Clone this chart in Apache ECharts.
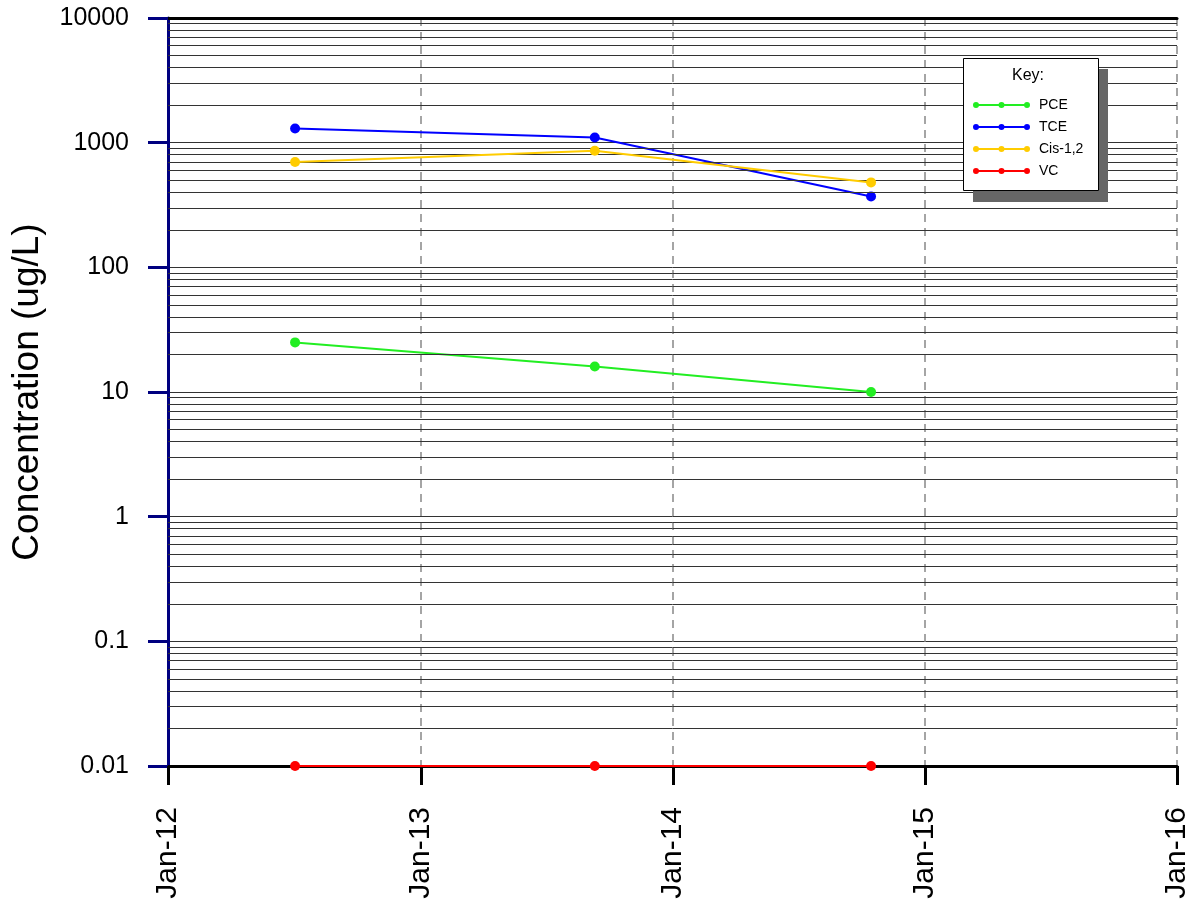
<!DOCTYPE html>
<html>
<head>
<meta charset="utf-8">
<script src="https://cdn.jsdelivr.net/npm/echarts@6/dist/echarts.min.js"></script>
<style>
  html, body { margin: 0; padding: 0; background: #fff; }
  #chart { width: 1193px; height: 905px; }
</style>
</head>
<body>
<div id="chart"></div>
<script>
// sample dates and concentrations (ug/L)
const sampleDates = ['2012-07-03', '2013-09-10', '2014-10-15'];
const pceValues = [25, 16, 10];
const tceValues = [1300, 1100, 370];
const cisValues = [700, 860, 480];
const vcValues = [0.01, 0.01, 0.01];

const seriesNames = ['PCE', 'TCE', 'Cis-1,2', 'VC'];
const seriesColors = ['#22ee22', '#0000ff', '#ffcc00', '#ff0000'];

const xMin = '2012-01-01';
const xMax = '2016-01-01';
const monthNames = ['Jan', 'Feb', 'Mar', 'Apr', 'May', 'Jun', 'Jul', 'Aug', 'Sep', 'Oct', 'Nov', 'Dec'];

// minor log grid lines (2..9 of every decade)
const minorLines = [];
[0.01, 0.1, 1, 10, 100, 1000].forEach((d) => {
  for (let k = 2; k <= 9; k++) minorLines.push({ yAxis: +(d * k).toPrecision(3) });
});

const toPairs = (vals) => sampleDates.map((d, i) => [d, vals[i]]);

// legend icon: line with three dots
const keyIcon = 'path://M3,2 L54,2 L54,4 L3,4 Z M0,3 A3,3 0 1,1 6,3 A3,3 0 1,1 0,3 Z M25.5,3 A3,3 0 1,1 31.5,3 A3,3 0 1,1 25.5,3 Z M51,3 A3,3 0 1,1 57,3 A3,3 0 1,1 51,3 Z';

const chart = echarts.init(document.getElementById('chart'));

const makeSeries = (name, vals, color, z) => ({
  name: name,
  type: 'line',
  data: toPairs(vals),
  symbol: 'circle',
  symbolSize: 10,
  z: z,
  lineStyle: { color: color, width: 2 },
  itemStyle: { color: color },
  emphasis: { disabled: true }
});

let option = {
  animation: false,
  backgroundColor: '#ffffff',
  textStyle: { fontFamily: 'Liberation Sans, Arial, sans-serif' },
  grid: { left: 168, right: 16, top: 18, bottom: 139, containLabel: false },
  graphic: [
    { type: 'rect', left: 973, top: 69, z: 100, shape: { width: 135, height: 133 }, style: { fill: '#666666' } },
    { type: 'rect', left: 963, top: 58, z: 101, shape: { width: 135, height: 132 }, style: { fill: '#ffffff', stroke: '#000', lineWidth: 1 } },
    { type: 'text', left: 1012, top: 68, z: 102, style: { text: 'Key:', fontSize: 16, fill: '#000', fontFamily: 'Liberation Sans, Arial, sans-serif' } }
  ],
  legend: {
    data: seriesNames.map((n, i) => ({
      name: n,
      icon: keyIcon,
      itemStyle: { color: seriesColors[i], borderWidth: 0 },
      lineStyle: { width: 0 }
    })),
    orient: 'vertical',
    left: 968,
    top: 93,
    z: 110,
    itemWidth: 57,
    itemHeight: 6,
    itemGap: 8,
    selectedMode: false,
    textStyle: { fontSize: 14, color: '#000', padding: [0, 0, 0, 4] }
  },
  xAxis: [{
    type: 'time',
    min: xMin,
    max: xMax,
    splitNumber: 4,
    minInterval: 365 * 24 * 3600 * 1000,
    axisLine: { lineStyle: { color: '#000', width: 3 } },
    axisTick: { show: true, length: 19, lineStyle: { color: '#000', width: 3 } },
    splitLine: { show: true, lineStyle: { color: '#888', width: 1.5, type: [8, 6] } },
    axisLabel: {
      rotate: 90,
      margin: 41,
      fontSize: 30,
      color: '#000',
      showMinLabel: true,
      showMaxLabel: true,
      formatter: (value) => {
        const d = new Date(value);
        return monthNames[d.getMonth()] + '-' + String(d.getFullYear()).slice(2);
      }
    }
  }, {
    type: 'time',
    position: 'top',
    min: xMin,
    max: xMax,
    axisLine: { show: true, lineStyle: { color: '#000', width: 3 } },
    axisTick: { show: false },
    axisLabel: { show: false },
    splitLine: { show: false }
  }],
  yAxis: {
    type: 'log',
    logBase: 10,
    min: 0.01,
    max: 10000,
    name: 'Concentration (ug/L)',
    nameLocation: 'middle',
    nameGap: 122,
    nameTextStyle: { fontSize: 37, color: '#000' },
    axisLine: { show: true, lineStyle: { color: '#000080', width: 3 } },
    axisTick: { show: true, length: 20, lineStyle: { color: '#000080', width: 3 } },
    splitLine: { show: true, lineStyle: { color: '#333', width: 1 } },
    axisLabel: {
      margin: 39,
      fontSize: 25,
      color: '#000',
      formatter: (v) => String(+v.toPrecision(3))
    }
  },
  series: [
    {
      type: 'line',
      data: [],
      silent: true,
      z: 1,
      markLine: {
        silent: true,
        symbol: 'none',
        label: { show: false },
        lineStyle: { color: '#333', width: 1, type: 'solid' },
        emphasis: { disabled: true },
        data: minorLines
      }
    },
    makeSeries('PCE', pceValues, seriesColors[0], 3),
    makeSeries('TCE', tceValues, seriesColors[1], 4),
    makeSeries('Cis-1,2', cisValues, seriesColors[2], 5),
    makeSeries('VC', vcValues, seriesColors[3], 6)
  ]
};

chart.setOption(option);
</script>
</body>
</html>
